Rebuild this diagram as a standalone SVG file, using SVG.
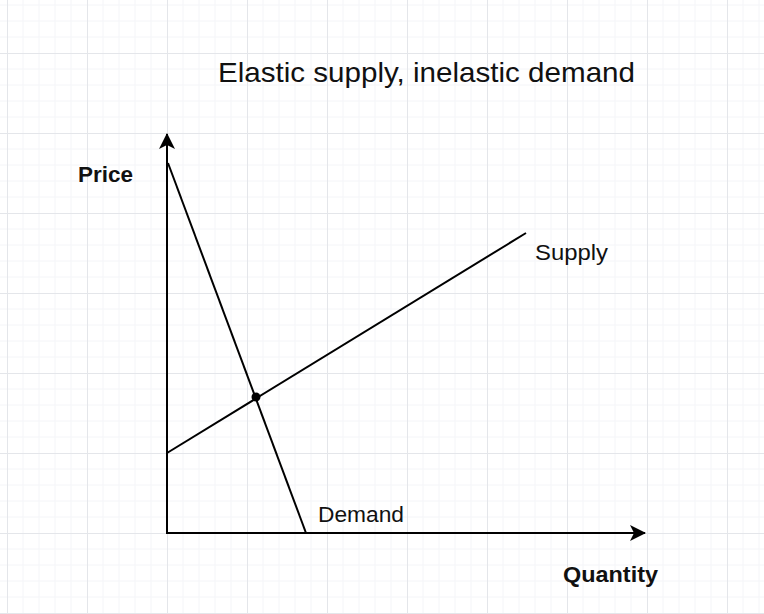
<svg xmlns="http://www.w3.org/2000/svg" width="764" height="614" viewBox="0 0 764 614">
  <defs>
    <pattern id="grid" patternUnits="userSpaceOnUse" x="7" y="53" width="80" height="80">
      <path d="M16 0V80M32 0V80M48 0V80M64 0V80M0 16H80M0 32H80M0 48H80M0 64H80" stroke="#f4f5f8" stroke-width="1" fill="none"/>
      <path d="M0.5 0V80M0 0.5H80" stroke="#e4e6ea" stroke-width="1" fill="none"/>
    </pattern>
    <marker id="arrow" viewBox="0 0 16 16" refX="15" refY="8" markerWidth="16" markerHeight="16" markerUnits="userSpaceOnUse" orient="auto">
      <path d="M0 0 L16 8 L0 16 L4 8 Z" fill="#000"/>
    </marker>
  </defs>
  <style>
    .axis { stroke: #000; stroke-width: 2; fill: none; }
    .curve { stroke: #000; stroke-width: 2; fill: none; }
    .title { font-family: "Liberation Sans", Arial, sans-serif; font-size: 28px; fill: #111; }
    .lbl { font-family: "Liberation Sans", Arial, sans-serif; font-size: 22px; fill: #111; }
    .bold { font-weight: bold; }
  </style>
  <rect width="764" height="614" fill="#ffffff"/>
  <rect width="764" height="614" fill="url(#grid)"/>

  <g id="title">
    <text class="title" x="218" y="82" textLength="417" lengthAdjust="spacingAndGlyphs">Elastic supply, inelastic demand</text>
  </g>

  <g id="connectors">
    <line id="y-axis" class="axis" x1="167" y1="534" x2="167" y2="134" marker-end="url(#arrow)"/>
    <line id="x-axis" class="axis" x1="166" y1="533" x2="645" y2="533" marker-end="url(#arrow)"/>
    <line id="demand-line" class="curve" x1="168" y1="163" x2="306" y2="533"/>
    <line id="supply-line" class="curve" x1="167" y1="453" x2="526" y2="233"/>
  </g>

  <g id="equilibrium">
    <circle cx="256" cy="397" r="4.5" fill="#000"/>
  </g>

  <g id="price-label">
    <text class="lbl bold" x="78" y="182" textLength="55" lengthAdjust="spacingAndGlyphs">Price</text>
  </g>
  <g id="supply-label">
    <text class="lbl" x="535" y="260" textLength="73" lengthAdjust="spacingAndGlyphs">Supply</text>
  </g>
  <g id="demand-label">
    <text class="lbl" x="318" y="522" textLength="86" lengthAdjust="spacingAndGlyphs">Demand</text>
  </g>
  <g id="quantity-label">
    <text class="lbl bold" x="563" y="582" textLength="95" lengthAdjust="spacingAndGlyphs">Quantity</text>
  </g>
</svg>
